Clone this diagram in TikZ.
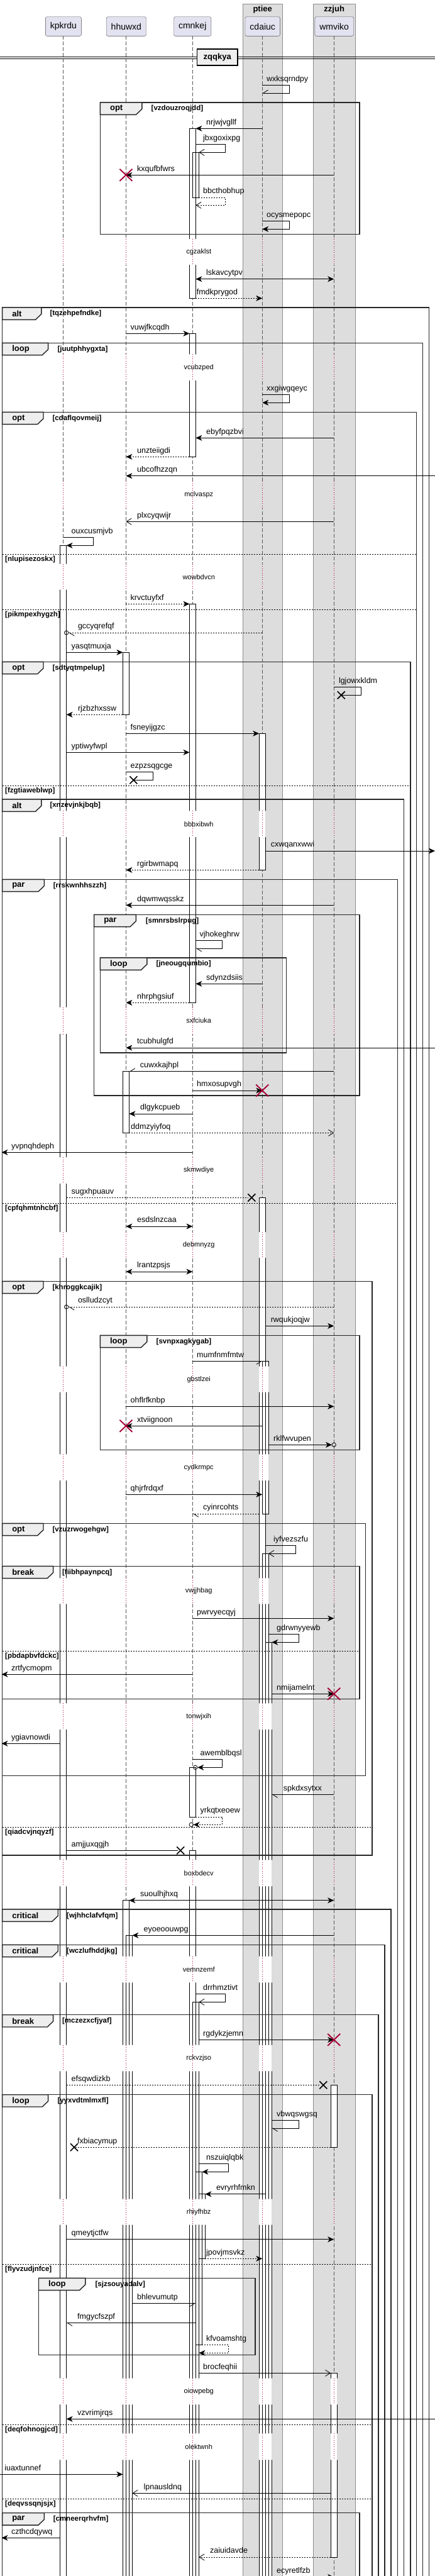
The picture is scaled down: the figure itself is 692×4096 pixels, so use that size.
\documentclass[tikz,border=0pt]{standalone}
\usepackage{fontspec}
\setmainfont{Liberation Sans}
\usetikzlibrary{arrows.meta}

\definecolor{partfill}{HTML}{E2E2F0}
\definecolor{boxgrey}{HTML}{DDDDDD}
\definecolor{tabfill}{HTML}{EEEEEE}
\definecolor{crimson}{HTML}{A80036}

% message: [tip]{from x}{to x}{y}{label x}{label}
\newcommand{\msg}[6][fhead]{%
  \draw[msg,#1] (#2,#4) -- (#3,#4);
  \node[lbl] (#6) at (#5,#4-3.2) {#6};}
% self message: [tip]{x}{x right}{y1}{y2}{x end}{label x}{label}
\newcommand{\selfmsg}[8][fhead]{%
  \draw[msg,#1] (#2,#4) -- (#3,#4) -- (#3,#5) -- (#6,#5);
  \node[lbl] (#8) at (#7,#4-3.2) {#8};}
% frame: {x1}{x2}{top}{bottom}{tab right}{keyword}{cond x}{cond}
\newcommand{\frm}[8]{%
  \draw[frameline] (#1,#3) rectangle (#2,#4);
  \draw[frameline, fill=tabfill] (#1,#3) -- (#5,#3) -- (#5,#3+10.3) -- (#5-9.4,#3+19.3) -- (#1,#3+19.3) -- cycle;
  \node[kw] (#8-kw) at (#1+15.5,#3+10) {#6};
  \node[cnd] (#8) at (#7,#3+10) {[#8]};}
% else line: {x1}{x2}{y}{cond}
\newcommand{\sepline}[4]{%
  \draw[sepl] (#1,#3) -- (#2,#3);
  \node[cnd] (#4) at (#1+4.4,#3+8) {[#4]};}
\newcommand{\redx}[2]{\draw[crimson, line width=1.9pt] (#1-10,#2-9.5) -- (#1+10,#2+9.5) (#1-10,#2+9.5) -- (#1+10,#2-9.5);}
\newcommand{\blackx}[2]{\draw[line width=1.6pt] (#1-6,#2-6) -- (#1+6,#2+6) (#1-6,#2+6) -- (#1+6,#2-6);}

\def\lifexs{100.6,200.4,306.4,417.2,531.2}
\def\delays{380/421/cgzaklst, 563.3/605/vcubzped, 765/808.3/mclvaspz, 896.7/937.7/wowbdvcn,
  1289.3/1331/bbbxibwh, 1601.7/1644/sxfciuka, 1840/1882/skmwdiye, 1959/2000/debmnyzg,
  2172.7/2213.7/gbstlzei, 2312.3/2354/cydkrmpc, 2509.3/2550.3/vwjjhbag, 2708.3/2750/tonwjxih,
  2957.3/2999.3/boxbdecv, 3110.7/3152.3/vemnzemf, 3251.7/3293.3/rckvzjso, 3496.7/3537.7/rhiyfhbz,
  3781.7/3823.3/oiowpebg, 3869.3/3911.3/olektwnh}
\def\bands{0/380, 421/563.3, 605/765, 808.3/896.7, 937.7/1289.3, 1331/1601.7, 1644/1840,
  1882/1959, 2000/2172.7, 2213.7/2312.3, 2354/2509.3, 2550.3/2708.3, 2750/2957.3,
  2999.3/3110.7, 3152.3/3251.7, 3293.3/3496.7, 3537.7/3781.7, 3823.3/3869.3, 3911.3/4120}
\def\bars{95.6/867.3/4120, 195.4/1037.3/1136.3, 195.4/1703.7/1801.3, 195.4/3021.7/4120,
  200.4/3077.3/4120, 301.4/204.3/474.3, 306.4/242.3/314, 301.4/530.3/726.3,
  301.4/960.3/1594.3, 301.4/2810.3/2889, 301.4/2942.3/4120, 306.4/3183.3/4120,
  311.4/3453.3/3728.3, 316.4/3488.7/3591.3, 412.2/1166.3/1383.3, 412.2/1904.3/4120,
  417.2/2164.3/2407, 417.2/2470.3/4120, 422.2/2611.3/4120, 526.2/3315.3/3414.3,
  526.2/3773.3/4066}

\begin{document}
\begin{tikzpicture}[x=1pt, y=-1pt,
    part/.style={draw=black!70, fill=partfill, rounded corners=2.5pt, minimum height=30.6pt, inner xsep=7.5pt, font=\fontsize{14}{16}\selectfont},
    grp/.style={fill=boxgrey, draw=black!45, line width=0.8pt},
    grptitle/.style={inner sep=0pt, font=\bfseries\fontsize{13}{15}\selectfont},
    life/.style={black!65, line width=0.6pt, dash pattern=on 5.5pt off 3.5pt},
    dl/.style={crimson, line width=0.7pt, dash pattern=on 1pt off 2.5pt},
    dlytext/.style={inner sep=0pt, font=\fontsize{11}{13}\selectfont},
    act/.style={line width=0.8pt},
    frameline/.style={line width=1.4pt, draw=black!85},
    kw/.style={anchor=west, inner sep=0pt, font=\bfseries\fontsize{13}{15}\selectfont},
    cnd/.style={anchor=west, inner sep=0pt, font=\bfseries\fontsize{11.5}{14}\selectfont},
    sepl/.style={line width=0.8pt, dash pattern=on 2pt off 2pt},
    msg/.style={line width=0.8pt},
    ret/.style={dash pattern=on 2pt off 2pt},
    lbl/.style={anchor=south west, inner sep=0pt, text height=9pt, text depth=2.7pt, font=\fontsize{12.5}{15}\selectfont},
    fhead/.style={-{Stealth[length=10pt,width=9pt,inset=3pt]}},
    fboth/.style={{Stealth[length=10pt,width=9pt,inset=3pt]}-{Stealth[length=10pt,width=9pt,inset=3pt]}},
    ohead/.style={-{Straight Barb[length=8pt,width=10pt]}},
    hl/.style={-{Straight Barb[length=8pt,width=10pt,left]}},
    hr/.style={-{Straight Barb[length=8pt,width=10pt,right]}},
    divbox/.style={draw, line width=1.4pt, fill=tabfill, minimum width=64.5pt, minimum height=26pt, font=\bfseries\fontsize{13}{15}\selectfont}
]
\useasboundingbox (0,0) rectangle (692,4096);

% box groups
\draw[grp] (386.1,6.3) rectangle (449.3,4120);
\draw[grp] (497.9,6.3) rectangle (565.5,4120);
\node[grptitle] (ptiee) at (417.7,15.5) {ptiee};
\node[grptitle] (zzjuh) at (531.7,15.5) {zzjuh};

% participants
\node[part] (kpkrdu) at (100.85,42) {kpkrdu};
\node[part] (hhuwxd) at (200.85,42) {hhuwxd};
\node[part] (cmnkej) at (306.2,42) {cmnkej};
\node[part] (cdaiuc) at (417.7,42) {cdaiuc};
\node[part] (wmviko) at (531.7,42) {wmviko};

% lifelines, broken at the delays
\begin{scope}
  \clip \foreach \ya/\yb in \bands {(-10,\ya) rectangle (710,\yb)};
  \foreach \lx in \lifexs \draw[life] (\lx,57.3) -- (\lx,4120);
\end{scope}

% activations
\foreach \xl/\ya/\yb in \bars \fill[white] (\xl,\ya) rectangle (\xl+10,\yb);
\begin{scope}
  \clip \foreach \ya/\yb in \bands {(-10,\ya) rectangle (710,\yb)};
  \foreach \xl/\ya/\yb in \bars \draw[act] (\xl,\ya) rectangle (\xl+10,\yb);
\end{scope}

% delays
\foreach \ya/\yb/\dt in \delays {
  \foreach \lx in \lifexs \draw[dl] (\lx,\ya) -- (\lx,\yb);
  \node[dlytext] (\dt) at (316.2,{(\ya+\yb)/2}) {\dt};
}

% divider
\draw[line width=1pt] (0,90) -- (692,90) (0,93.3) -- (692,93.3);
\node[divbox] (zqqkya) at (345.75,91) {zqqkya};

% frames
\frm{159.4}{571.8}{163}{372.3}{225.8}{opt}{240.5}{vzdouzroqjdd}
\frm{3.6}{682.6}{489}{4120}{65.9}{alt}{79.3}{tqzehpefndke}
\frm{3.6}{672.4}{545.3}{4120}{76.6}{loop}{91.3}{juutphhygxta}
\frm{3.6}{662.6}{655.3}{4120}{69}{opt}{83.3}{cdaflqovmeij}
\sepline{3.6}{662.6}{881.3}{nlupisezoskx}
\sepline{3.6}{662.6}{969.3}{pikmpexhygzh}
\frm{3.6}{652.8}{1052.3}{4120}{69}{opt}{83.3}{sdtyqtmpelup}
\sepline{3.6}{652.8}{1249.3}{fzgtiaweblwp}
\frm{3.6}{642.6}{1271}{4120}{65.9}{alt}{79.3}{xnzevjnkjbqb}
\frm{3.6}{632.3}{1398.3}{4120}{70.4}{par}{84.6}{rrskwnhhszzh}
\frm{149.6}{571.8}{1454.3}{1742}{216.4}{par}{231.6}{smnrsbslrpug}
\frm{159.4}{455.5}{1523}{1674}{233.8}{loop}{248.5}{jneougqumbio}
\sepline{3.6}{632.3}{1913.3}{cpfqhmtnhcbf}
\frm{3.6}{591.8}{2037.3}{2950}{69}{opt}{83.3}{khroggkcajik}
\frm{159.4}{571.8}{2123.3}{2305.7}{233.8}{loop}{248.5}{svnpxagkygab}
\frm{3.6}{581.6}{2422.3}{2823.3}{69}{opt}{83.3}{vzuzrwogehgw}
\frm{3.6}{571.8}{2490.3}{2701.3}{84.6}{break}{98.9}{fiibhpaynpcq}
\sepline{3.6}{571.8}{2625.3}{pbdapbvfdckc}
\sepline{3.6}{591.8}{2905.3}{qiadcvjnqyzf}
\frm{3.6}{622.1}{3036}{4120}{92.2}{critical}{106}{wjhhclafvfqm}
\frm{3.6}{611.9}{3092.3}{4120}{92.2}{critical}{106}{wczlufhddjkg}
\frm{3.6}{602}{3203.7}{4120}{84.6}{break}{98.9}{mczezxcfjyaf}
\frm{3.6}{591.8}{3330.7}{4120}{76.6}{loop}{91.3}{yyxvdtmlmxfl}
\sepline{3.6}{591.8}{3600.3}{flyvzudjnfce}
\frm{61.5}{406.1}{3622.3}{3744.3}{135.8}{loop}{151.4}{sjzsouyadalv}
\sepline{3.6}{591.8}{3855.3}{deqfohnogjcd}
\sepline{3.6}{591.8}{3973.3}{deqvssqnjsjx}
\frm{3.6}{571.8}{3995.7}{4120}{70.4}{par}{84.6}{cmneerqrhvfm}

% messages
\selfmsg[hr]{417.2}{460.5}{135.3}{148}{417.2}{424}{wxksqrndpy}
\msg{417.2}{311.4}{204.3}{328}{nrjwjvgllf}
\selfmsg[ohead]{311.4}{358.5}{229.3}{242.3}{316.4}{323}{jbxgoxixpg}
\msg{531.2}{200.4}{278.3}{218}{kxqufbfwrs}
\redx{200.4}{278.3}
\selfmsg[ret,ohead]{316.4}{358.5}{314}{326.3}{311.4}{323}{bbcthobhup}
\selfmsg{417.2}{460.5}{351.3}{364.3}{417.2}{424}{ocysmepopc}
\msg[fboth]{311.4}{531.2}{443.7}{328}{lskavcytpv}
\msg[ret,fhead]{311.4}{417.2}{474.3}{312.6}{fmdkprygod}
\msg{200.4}{301.4}{530.3}{207.5}{vuwjfkcqdh}
\selfmsg{417.2}{460.5}{627.3}{640.3}{417.2}{424}{xxgiwgqeyc}
\msg{531.2}{311.4}{696.3}{328}{ebyfpqzbvi}
\msg[ret,fhead]{301.4}{200.4}{726.3}{218}{unzteiigdi}
\msg{692}{200.4}{756.7}{218}{ubcofhzzqn}
\msg[ohead]{531.2}{200.4}{829.3}{218}{plxcyqwijr}
\selfmsg{100.6}{148.3}{854.3}{867.3}{105.6}{113.5}{ouxcusmjvb}
\msg[ret,fhead]{200.4}{301.4}{960.3}{207.5}{krvctuyfxf}
\msg[ret,hl]{417.2}{108.8}{1006}{123.8}{gccyqrefqf}
\draw[msg] (105.6,1006) circle (3.2);
\msg{105.6}{195.4}{1037.3}{113.5}{yasqtmuxja}
\selfmsg[-]{531.2}{574.4}{1092.3}{1105.3}{542.8}{538.8}{lgjowxkldm}
\blackx{542.8}{1105.3}
\msg[ret,fhead]{195.4}{105.6}{1136.3}{123.8}{rjzbzhxssw}
\msg{200.4}{412.2}{1166.3}{207.5}{fsneyijgzc}
\msg{105.6}{301.4}{1196.3}{113.5}{yptiwyfwpl}
\selfmsg[-]{200.4}{243.1}{1227.3}{1240.3}{212.4}{207.5}{ezpzsqgcge}
\blackx{212.4}{1240.3}
\msg{422.2}{692}{1353}{430.6}{cxwqanxwwi}
\msg[ret,fhead]{412.2}{200.4}{1383.3}{218}{rgirbwmapq}
\msg{531.2}{200.4}{1439.3}{218}{dqwmwqsskz}
\selfmsg[hl]{311.4}{353.1}{1495.3}{1508}{311.4}{317.5}{vjhokeghrw}
\msg{417.2}{311.4}{1564.3}{328}{sdynzdsiis}
\msg[ret,fhead]{301.4}{200.4}{1594.3}{218}{nhrphgsiuf}
\msg{692}{200.4}{1666}{218}{tcubhulgfd}
\msg[hr]{531.2}{205.4}{1703.7}{222.7}{cuwxkajhpl}
\msg{306.4}{417.2}{1734}{313}{hmxosupvgh}
\redx{417.2}{1734}
\msg{306.4}{205.4}{1771}{223}{dlgykcpueb}
\msg[ret,ohead]{205.4}{531.2}{1801.3}{208}{ddmzyiyfoq}
\msg{306.4}{2.5}{1832.3}{17.8}{yvpnqhdeph}
\msg[ret,-]{105.6}{394}{1904.3}{113.5}{sugxhpuauv}
\blackx{400.3}{1904.3}
\msg[fboth]{200.4}{306.4}{1950}{218}{esdslnzcaa}
\msg[fboth]{200.4}{306.4}{2022}{218}{lrantzpsjs}
\msg[ret,hl]{531.2}{108.8}{2078}{123.8}{oslludzcyt}
\draw[msg] (105.6,2078) circle (3.2);
\msg{422.2}{531.2}{2108.3}{430.6}{rwqukjoqjw}
\msg[hr]{306.4}{417.2}{2164.3}{313}{mumfnmfmtw}
\msg{200.4}{531.2}{2236.3}{207.5}{ohflrfknbp}
\msg{417.2}{200.4}{2267.3}{218}{xtviignoon}
\redx{200.4}{2267.3}
\msg{427.2}{528}{2297.3}{435}{rklfwvupen}
\draw[msg] (531.2,2297.3) circle (3.2);
\msg{200.4}{417.2}{2376.3}{207.5}{qhjrfrdqxf}
\msg[ret,hl]{412.2}{306.4}{2407}{323}{cyinrcohts}
\selfmsg[ohead]{422.2}{470.7}{2457.3}{2470.3}{427.2}{435}{iyfvezszfu}
\msg{306.4}{531.2}{2573.3}{313}{pwrvyecqyj}
\selfmsg{427.2}{475.6}{2598.7}{2611.3}{432.2}{440}{gdrwnyyewb}
\msg{306.4}{2.5}{2662.3}{17.8}{zrtfycmopm}
\msg{432.2}{531.2}{2693.3}{440}{nmijamelnt}
\redx{531.2}{2693.3}
\msg{95.6}{2.5}{2772.3}{17.8}{ygiavnowdi}
\selfmsg{306.4}{353.1}{2797.3}{2810.3}{314.2}{318.4}{awemblbqsl}
\draw[msg] (310.8,2810.3) circle (3.2);
\msg[hl]{531.2}{432.2}{2853.3}{450.6}{spkdxsytxx}
\selfmsg[ret,fhead]{311.4}{353.1}{2889}{2901.3}{307.6}{318.4}{yrkqtxeoew}
\draw[msg] (304.3,2901.3) circle (3.2);
\msg[-]{105.6}{283}{2942.3}{113.5}{amjjuxqgjh}
\blackx{287.2}{2942.3}
\msg[fboth]{205.4}{531.2}{3021.7}{223}{suoulhjhxq}
\msg{531.2}{210.4}{3077.3}{228.4}{eyoeoouwpg}
\selfmsg[ohead]{311.4}{358.5}{3170.3}{3183.3}{316.4}{323}{drrhmztivt}
\msg{316.4}{531.2}{3243.3}{323}{rgdykzjemn}
\redx{531.2}{3243.3}
\msg[ret,-]{105.6}{508.5}{3315.3}{113.5}{efsqwdizkb}
\blackx{514.3}{3315.3}
\selfmsg[hl]{432.2}{475.6}{3371.7}{3384}{432.2}{440}{vbwqswgsq}
\msg[ret,-]{526.2}{118}{3414.3}{123}{fxbiacymup}
\blackx{118}{3414.3}
\selfmsg{316.4}{363.8}{3440.7}{3453.3}{321.4}{328}{nszuiqlqbk}
\msg{422.2}{326.4}{3488.7}{343.8}{evryrhfmkn}
\msg{105.6}{531.2}{3560.7}{113.5}{qmeytjctfw}
\msg[ret,fhead]{326.4}{417.2}{3591.3}{328}{jpovjmsvkz}
\msg[hr]{210.4}{311.4}{3662.3}{218}{bhlevumutp}
\msg[hl]{311.4}{105.6}{3693.3}{123}{fmgycfszpf}
\selfmsg[ret,fhead]{321.4}{363.8}{3728.3}{3741.3}{316.4}{328}{kfvoamshtg}
\msg[ohead]{316.4}{526.2}{3773.3}{323}{brocfeqhii}
\msg{692}{105.6}{3846.3}{123}{vzvrimjrqs}
\msg{0}{195.4}{3934.3}{7.1}{iuaxtunnef}
\msg[ohead]{526.2}{210.4}{3964.3}{228.4}{lpnausldnq}
\msg{95.6}{2.5}{4035.3}{17.8}{czthcdqywq}
\msg[ret,ohead]{526.2}{316.4}{4066}{334}{zaiuidavde}
\msg{432.2}{531.2}{4097.5}{440}{ecyretlfzb}
\end{tikzpicture}
\end{document}
